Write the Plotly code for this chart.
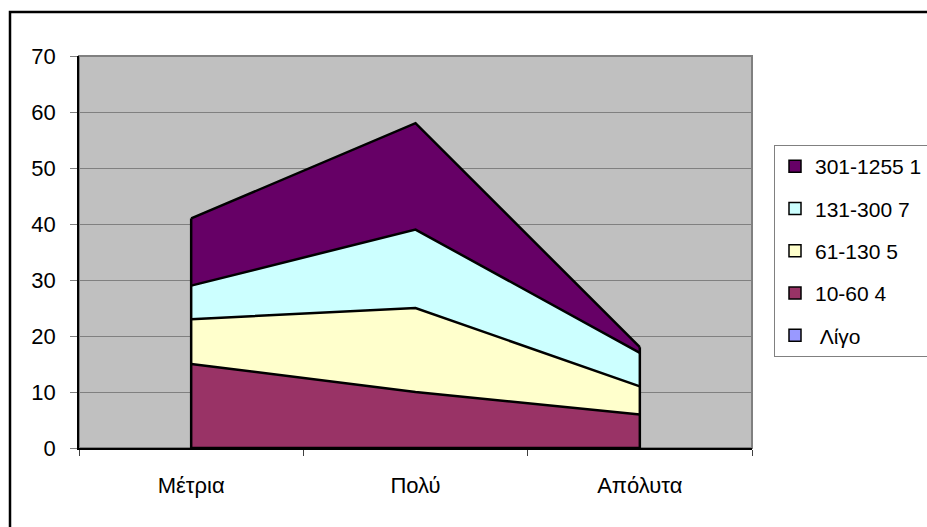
import numpy as np
import plotly.graph_objects as go

# Data
categories = ['Μέτρια', 'Πολύ', 'Απόλυτα']
series_names = ['Λίγο', '10-60 4', '61-130 5', '131-300 7', '301-1255 1']
ligo = [0, 0, 0]
s_10_60 = [15, 10, 6]
s_61_130 = [8, 15, 5]
s_131_300 = [6, 14, 6]
s_301_1255 = [12, 19, 1]
y_ticks = [0, 10, 20, 30, 40, 50, 60, 70]

series_values = [ligo, s_10_60, s_61_130, s_131_300, s_301_1255]
FILLS = ['#9999FF', '#993366', '#FFFFCC', '#CCFFFF', '#660066']
FONT = dict(family='Liberation Sans, Arial, sans-serif', size=22, color='black')

fig = go.Figure()

for name, vals, color in zip(series_names, series_values, FILLS):
    fig.add_trace(go.Scatter(
        x=categories, y=vals, name=name, mode='lines',
        stackgroup='one', fillcolor=color,
        line=dict(color='black', width=2.5),
        showlegend=False, hoverinfo='skip'
    ))

# vertical outline on both ends of the stack
totals = np.sum(series_values, axis=0)
for i in (0, len(categories) - 1):
    fig.add_trace(go.Scatter(
        x=[categories[i], categories[i]], y=[0, totals[i]], mode='lines',
        line=dict(color='black', width=2.5), showlegend=False, hoverinfo='skip'
    ))

# Excel-like square legend swatches, top series first
for k, (name, color) in enumerate(zip(series_names[::-1], FILLS[::-1])):
    label = ' ' + name if name == 'Λίγο' else name
    fig.add_trace(go.Scatter(
        x=[None], y=[None], name=label, mode='markers',
        marker=dict(symbol='square', size=12, color=color,
                    line=dict(color='black', width=1.5)),
        legendgroup=str(k), showlegend=True
    ))

W, H = 927, 527
L, T = 79, 56
R, B = W - 752, H - 448
pw, ph = W - L - R, H - T - B


def px_x(x):
    return (x - L) / pw


def px_y(y):
    return (H - B - y) / ph


fig.update_layout(
    width=W, height=H,
    margin=dict(l=L, r=R, t=T, b=B, autoexpand=False),
    paper_bgcolor='white', plot_bgcolor='#C0C0C0',
    font=FONT,
    legend=dict(
        x=px_x(774), xanchor='left',
        y=px_y(145), yanchor='top',
        traceorder='grouped', tracegroupgap=12,
        bordercolor='#808080', borderwidth=1, bgcolor='white',
        font=dict(FONT, size=21), itemwidth=30
    ),
    shapes=[
        # plot-area frame
        dict(type='rect', xref='paper', yref='paper', x0=0, x1=1, y0=0, y1=1,
             line=dict(color='#808080', width=2), layer='below'),
        # outer chart border (runs off the right and bottom edges)
        dict(type='rect', xref='paper', yref='paper',
             x0=px_x(10), x1=px_x(945), y0=px_y(545), y1=px_y(12),
             line=dict(color='black', width=2.5)),
    ],
)

fig.update_xaxes(
    type='category', range=[-0.5, 2.5], tickson='boundaries',
    ticks='outside', ticklen=6, tickcolor='#404040',
    showline=True, linecolor='black', linewidth=2,
    showgrid=False, ticklabelstandoff=17, fixedrange=True
)
fig.update_yaxes(
    range=[0, 70], tickvals=y_ticks,
    ticks='outside', ticklen=7, tickcolor='#808080',
    showline=True, linecolor='black', linewidth=1.5,
    gridcolor='#808080', gridwidth=1, zeroline=False,
    ticklabelstandoff=10, fixedrange=True
)

fig.write_html(
    'out.html',
    config={'displayModeBar': False},
    post_script="document.body.style.margin='0';document.body.style.overflow='hidden';"
)
